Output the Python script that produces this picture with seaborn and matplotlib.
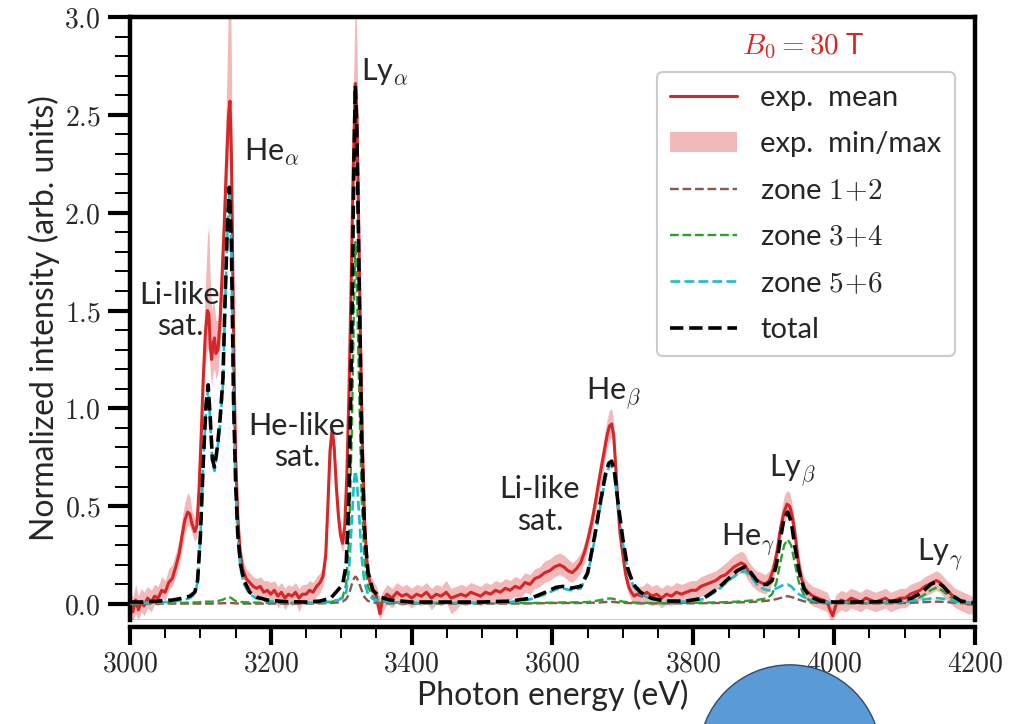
import numpy as np
import pandas as pd
import matplotlib
matplotlib.use("Agg")
import matplotlib.pyplot as plt
import seaborn as sns
from matplotlib.patches import Ellipse
from matplotlib.ticker import MultipleLocator, FuncFormatter

exp_x = [
    3000, 3004, 3008, 3012, 3016, 3020, 3025, 3030, 3035, 3040, 3045, 3050, 3055, 3060, 3065, 3070, 3074, 3078, 3082, 3085, 3088, 3092, 3095,
    3098, 3101, 3104, 3107, 3110, 3112, 3114, 3116, 3118, 3120, 3122, 3125, 3128, 3131, 3134, 3137, 3140, 3142, 3144, 3146, 3148, 3150, 3153, 3156, 3160,
    3165, 3170, 3175, 3180, 3185, 3190, 3195, 3200, 3205, 3210, 3215, 3220, 3225, 3230, 3235, 3240, 3245, 3250, 3255, 3260, 3265, 3270,
    3274, 3278, 3281, 3284, 3287, 3290, 3293, 3296, 3299, 3302, 3305, 3308, 3311, 3314, 3317, 3320, 3322, 3324, 3327, 3330, 3333, 3336, 3340, 3345, 3350, 3355, 3358,
    3365, 3372, 3379, 3386, 3393, 3400, 3407, 3414, 3421, 3428, 3435, 3442, 3449, 3456, 3463, 3470, 3477, 3484, 3491, 3498, 3505, 3512, 3519, 3526, 3533, 3540,
    3547, 3554, 3561, 3568, 3575, 3582, 3589, 3596, 3603, 3610, 3616, 3622, 3628, 3634, 3640, 3646, 3651, 3656, 3661, 3666, 3670, 3674, 3678, 3681, 3684, 3687, 3690, 3693, 3696, 3700, 3704, 3708, 3712, 3716, 3720,
    3727, 3734, 3741, 3748, 3755, 3762, 3769, 3776, 3783, 3790, 3797, 3804, 3811, 3818, 3825, 3832, 3839, 3846, 3852, 3858, 3863, 3868, 3873, 3878, 3884, 3890, 3896,
    3902, 3908, 3914, 3919, 3924, 3929, 3933, 3937, 3941, 3945, 3949, 3953, 3958, 3963, 3970, 3977, 3984, 3990,
    3994, 3998, 4003, 4010, 4017, 4024, 4031, 4038, 4045, 4052, 4059, 4066, 4073, 4080, 4087, 4094, 4101, 4108, 4115, 4122, 4129, 4135, 4140, 4145, 4150, 4155, 4160, 4166, 4172, 4178, 4184, 4190, 4196, 4200,
]
exp_mean = [
    0.00, -0.04, 0.02, -0.03, 0.01, -0.01, 0.03, 0.01, 0.04, 0.03, 0.07, 0.06, 0.11, 0.13, 0.19, 0.26, 0.35, 0.43, 0.47, 0.46, 0.41, 0.37, 0.40,
    0.58, 0.85, 1.15, 1.38, 1.50, 1.48, 1.32, 1.25, 1.33, 1.36, 1.28, 1.30, 1.45, 1.70, 1.95, 2.25, 2.50, 2.57, 2.30, 1.70, 1.15, 0.75, 0.45, 0.28, 0.18,
    0.13, 0.11, 0.09, 0.08, 0.09, 0.06, 0.07, 0.05, 0.07, 0.04, 0.06, 0.03, 0.05, 0.04, 0.06, 0.03, 0.05, 0.05, 0.07, 0.06, 0.09, 0.11,
    0.14, 0.25, 0.50, 0.78, 0.89, 0.80, 0.60, 0.45, 0.35, 0.31, 0.40, 0.66, 1.08, 1.62, 2.22, 2.66, 2.52, 2.12, 1.42, 0.82, 0.44, 0.23, 0.12, 0.07, 0.04, -0.05, 0.01,
    0.05, 0.03, 0.06, 0.04, 0.05, 0.03, 0.05, 0.04, 0.06, 0.03, 0.05, 0.04, 0.06, 0.03, 0.04, 0.05, 0.04, 0.06, 0.05, 0.04, 0.06, 0.05, 0.07, 0.06, 0.08, 0.07,
    0.09, 0.08, 0.11, 0.10, 0.13, 0.14, 0.16, 0.17, 0.19, 0.20, 0.19, 0.17, 0.16, 0.18, 0.21, 0.27, 0.34, 0.42, 0.52, 0.63, 0.71, 0.79, 0.87, 0.91, 0.92, 0.86, 0.69, 0.50, 0.36, 0.25, 0.15, 0.09, 0.06, 0.04, 0.05,
    0.04, 0.06, 0.04, 0.05, 0.03, 0.05, 0.04, 0.06, 0.05, 0.06, 0.07, 0.07, 0.09, 0.10, 0.11, 0.12, 0.14, 0.15, 0.17, 0.19, 0.20, 0.21, 0.20, 0.17, 0.14, 0.12, 0.11,
    0.10, 0.12, 0.18, 0.27, 0.39, 0.47, 0.51, 0.50, 0.44, 0.34, 0.22, 0.14, 0.08, 0.06, 0.04, 0.03, 0.02, 0.01,
    -0.03, -0.06, 0.00, 0.02, 0.01, 0.03, 0.02, 0.01, 0.03, 0.02, 0.01, 0.02, 0.03, 0.01, 0.02, 0.03, 0.03, 0.05, 0.06, 0.07, 0.09, 0.10, 0.11, 0.12, 0.11, 0.09, 0.07, 0.05, 0.03, 0.02, 0.01, 0.00, 0.00, 0.00,
]
exp_min = [
    -0.08, -0.08, -0.05, -0.08, -0.04, -0.06, -0.02, -0.04, 0.00, -0.01, 0.03, 0.02, 0.07, 0.09, 0.14, 0.20, 0.28, 0.36, 0.40, 0.40, 0.36, 0.32, 0.34,
    0.50, 0.75, 1.02, 1.22, 1.30, 1.30, 1.18, 1.12, 1.18, 1.20, 1.15, 1.18, 1.32, 1.55, 1.80, 2.08, 2.30, 2.38, 2.12, 1.55, 1.02, 0.66, 0.38, 0.23, 0.14,
    0.09, 0.07, 0.05, 0.04, 0.04, 0.01, 0.02, 0.00, 0.02, -0.02, 0.01, -0.03, 0.00, -0.01, 0.01, -0.04, 0.00, 0.00, 0.02, 0.01, 0.04, 0.06,
    0.09, 0.19, 0.42, 0.68, 0.80, 0.72, 0.52, 0.39, 0.30, 0.26, 0.34, 0.58, 0.96, 1.45, 2.00, 2.40, 2.28, 1.90, 1.28, 0.72, 0.38, 0.18, 0.08, 0.02, -0.02, -0.08, -0.05,
    0.00, -0.02, 0.01, -0.01, 0.00, -0.02, 0.00, -0.01, 0.01, -0.03, 0.00, -0.01, 0.01, -0.05, -0.03, 0.00, -0.01, 0.01, 0.00, -0.01, 0.01, 0.00, 0.02, 0.01, 0.03, 0.02,
    0.04, 0.03, 0.06, 0.05, 0.08, 0.09, 0.11, 0.12, 0.14, 0.15, 0.14, 0.12, 0.11, 0.13, 0.16, 0.22, 0.29, 0.37, 0.46, 0.56, 0.64, 0.72, 0.80, 0.84, 0.85, 0.78, 0.62, 0.44, 0.31, 0.20, 0.11, 0.05, 0.02, 0.00, 0.01,
    0.00, 0.01, -0.01, 0.00, -0.02, 0.00, -0.01, 0.01, 0.00, 0.01, 0.02, 0.02, 0.04, 0.05, 0.06, 0.07, 0.09, 0.10, 0.12, 0.14, 0.15, 0.16, 0.15, 0.12, 0.09, 0.07, 0.06,
    0.05, 0.07, 0.13, 0.22, 0.33, 0.41, 0.45, 0.44, 0.38, 0.29, 0.17, 0.09, 0.03, 0.01, -0.01, -0.02, -0.03, -0.04,
    -0.08, -0.08, -0.05, -0.03, -0.04, -0.02, -0.03, -0.04, -0.02, -0.03, -0.04, -0.03, -0.02, -0.04, -0.03, -0.02, -0.02, 0.00, 0.01, 0.02, 0.04, 0.05, 0.06, 0.07, 0.06, 0.04, 0.02, 0.00, -0.02, -0.03, -0.04, -0.05, -0.05, -0.05,
]
exp_max = [
    0.08, 0.03, 0.10, 0.04, 0.08, 0.06, 0.09, 0.07, 0.10, 0.09, 0.14, 0.12, 0.18, 0.20, 0.26, 0.33, 0.44, 0.52, 0.57, 0.55, 0.48, 0.44, 0.48,
    0.68, 0.98, 1.32, 1.62, 1.88, 1.93, 1.65, 1.50, 1.55, 1.52, 1.45, 1.45, 1.62, 1.90, 2.20, 2.60, 3.10, 3.30, 2.80, 2.00, 1.35, 0.88, 0.54, 0.34, 0.23,
    0.18, 0.16, 0.14, 0.13, 0.14, 0.12, 0.12, 0.11, 0.12, 0.09, 0.11, 0.08, 0.10, 0.09, 0.11, 0.08, 0.10, 0.10, 0.12, 0.11, 0.14, 0.16,
    0.19, 0.32, 0.58, 0.86, 0.93, 0.87, 0.68, 0.52, 0.41, 0.37, 0.47, 0.76, 1.22, 1.85, 2.60, 3.10, 2.95, 2.45, 1.65, 0.95, 0.52, 0.29, 0.17, 0.12, 0.09, 0.03, 0.06,
    0.10, 0.08, 0.11, 0.09, 0.10, 0.08, 0.10, 0.09, 0.11, 0.08, 0.10, 0.09, 0.12, 0.08, 0.09, 0.10, 0.09, 0.11, 0.10, 0.09, 0.11, 0.10, 0.12, 0.11, 0.13, 0.12,
    0.14, 0.13, 0.16, 0.15, 0.18, 0.19, 0.22, 0.23, 0.25, 0.26, 0.25, 0.23, 0.21, 0.23, 0.26, 0.32, 0.40, 0.48, 0.58, 0.70, 0.78, 0.87, 0.95, 0.99, 1.00, 0.93, 0.75, 0.56, 0.41, 0.30, 0.20, 0.13, 0.10, 0.08, 0.09,
    0.09, 0.11, 0.09, 0.10, 0.08, 0.10, 0.09, 0.11, 0.10, 0.11, 0.12, 0.12, 0.14, 0.15, 0.16, 0.17, 0.19, 0.21, 0.23, 0.25, 0.26, 0.27, 0.26, 0.22, 0.19, 0.17, 0.16,
    0.15, 0.17, 0.23, 0.33, 0.46, 0.55, 0.58, 0.57, 0.50, 0.40, 0.28, 0.19, 0.13, 0.11, 0.09, 0.08, 0.07, 0.06,
    0.03, 0.00, 0.05, 0.07, 0.06, 0.08, 0.07, 0.06, 0.08, 0.07, 0.06, 0.07, 0.08, 0.06, 0.07, 0.08, 0.08, 0.10, 0.11, 0.12, 0.14, 0.15, 0.16, 0.17, 0.16, 0.14, 0.12, 0.10, 0.08, 0.07, 0.06, 0.05, 0.04, 0.04,
]

# ---------------- model ----------------
model_x = [
    3000, 3020, 3040, 3060, 3075, 3085, 3092, 3096, 3100, 3104,
    3108, 3111, 3114, 3117, 3120, 3124, 3128, 3132, 3135, 3138,
    3141, 3144, 3147, 3150, 3153, 3157, 3162, 3170, 3180, 3195,
    3220, 3250, 3270, 3285, 3295, 3302, 3307, 3311, 3315, 3318,
    3320, 3322, 3325, 3329, 3333, 3338, 3345, 3355, 3370, 3400,
    3450, 3500, 3540, 3570, 3590, 3605, 3615, 3625, 3640, 3650,
    3660, 3668, 3675, 3680, 3684, 3688, 3693, 3700, 3707, 3715,
    3725, 3740, 3760, 3790, 3815, 3835, 3850, 3862, 3873, 3882,
    3890, 3898, 3905, 3912, 3918, 3924, 3929, 3934, 3939, 3944,
    3950, 3957, 3965, 3980, 4000, 4050, 4090, 4110, 4125, 4137,
    4146, 4155, 4165, 4180, 4200,
]
total = [
    0.01, 0.01, 0.015, 0.02, 0.03, 0.04, 0.06, 0.12, 0.35, 0.72,
    1.02, 1.12, 0.95, 0.74, 0.70, 0.80, 0.95, 1.15, 1.55, 1.90,
    2.13, 1.85, 1.05, 0.62, 0.36, 0.20, 0.12, 0.06, 0.035, 0.02,
    0.012, 0.01, 0.015, 0.03, 0.07, 0.10, 0.20, 0.55, 1.40, 2.25,
    2.65, 2.45, 1.75, 0.85, 0.38, 0.16, 0.07, 0.035, 0.02, 0.01,
    0.01, 0.01, 0.015, 0.03, 0.06, 0.085, 0.09, 0.08, 0.09, 0.16,
    0.35, 0.52, 0.66, 0.72, 0.73, 0.68, 0.52, 0.33, 0.18, 0.10,
    0.06, 0.03, 0.015, 0.015, 0.03, 0.08, 0.13, 0.17, 0.19, 0.16,
    0.12, 0.10, 0.10, 0.12, 0.20, 0.34, 0.44, 0.47, 0.42, 0.30,
    0.17, 0.08, 0.04, 0.015, 0.01, 0.01, 0.015, 0.03, 0.06, 0.10,
    0.115, 0.09, 0.05, 0.015, 0.005,
]
zone12 = [
    0.002, 0.002, 0.002, 0.002, 0.002, 0.002, 0.002, 0.002, 0.002, 0.002,
    0.002, 0.002, 0.002, 0.002, 0.002, 0.003, 0.003, 0.004, 0.004, 0.005,
    0.005, 0.005, 0.004, 0.003, 0.003, 0.003, 0.002, 0.002, 0.002, 0.002,
    0.002, 0.002, 0.003, 0.005, 0.008, 0.012, 0.025, 0.05, 0.10, 0.13,
    0.14, 0.135, 0.11, 0.07, 0.035, 0.015, 0.008, 0.004, 0.003, 0.002,
    0.002, 0.002, 0.002, 0.003, 0.004, 0.005, 0.005, 0.005, 0.005, 0.006,
    0.007, 0.008, 0.01, 0.011, 0.011, 0.01, 0.008, 0.006, 0.005, 0.004,
    0.003, 0.003, 0.003, 0.003, 0.004, 0.005, 0.006, 0.008, 0.009, 0.01,
    0.012, 0.014, 0.017, 0.02, 0.025, 0.031, 0.036, 0.04, 0.036, 0.03,
    0.022, 0.014, 0.009, 0.005, 0.003, 0.003, 0.004, 0.006, 0.009, 0.011,
    0.012, 0.011, 0.008, 0.004, 0.002,
]
zone34 = [
    0.005, 0.005, 0.005, 0.006, 0.006, 0.007, 0.008, 0.008, 0.01, 0.01,
    0.012, 0.012, 0.012, 0.012, 0.013, 0.015, 0.018, 0.022, 0.028, 0.033,
    0.035, 0.03, 0.022, 0.015, 0.012, 0.01, 0.009, 0.008, 0.007, 0.006,
    0.005, 0.005, 0.006, 0.01, 0.02, 0.035, 0.10, 0.33, 0.88, 1.50,
    1.85, 1.68, 1.17, 0.54, 0.23, 0.09, 0.035, 0.015, 0.008, 0.005,
    0.005, 0.005, 0.005, 0.005, 0.006, 0.007, 0.008, 0.008, 0.009, 0.01,
    0.015, 0.02, 0.025, 0.028, 0.028, 0.025, 0.018, 0.012, 0.009, 0.007,
    0.006, 0.005, 0.005, 0.006, 0.007, 0.008, 0.01, 0.012, 0.015, 0.018,
    0.02, 0.025, 0.03, 0.05, 0.11, 0.22, 0.30, 0.33, 0.30, 0.21,
    0.11, 0.045, 0.018, 0.007, 0.005, 0.005, 0.007, 0.015, 0.04, 0.07,
    0.085, 0.065, 0.035, 0.012, 0.005,
]
zone56 = [
    0.005, 0.005, 0.008, 0.012, 0.02, 0.03, 0.05, 0.11, 0.34, 0.71,
    1.00, 1.10, 0.93, 0.72, 0.68, 0.78, 0.92, 1.12, 1.52, 1.86,
    2.09, 1.82, 1.02, 0.60, 0.34, 0.18, 0.10, 0.05, 0.028, 0.015,
    0.008, 0.006, 0.008, 0.012, 0.02, 0.03, 0.06, 0.17, 0.42, 0.62,
    0.68, 0.64, 0.48, 0.24, 0.11, 0.05, 0.025, 0.015, 0.01, 0.006,
    0.006, 0.006, 0.01, 0.025, 0.05, 0.075, 0.08, 0.07, 0.08, 0.15,
    0.33, 0.50, 0.64, 0.70, 0.71, 0.66, 0.50, 0.31, 0.17, 0.09,
    0.05, 0.025, 0.012, 0.012, 0.025, 0.07, 0.12, 0.15, 0.17, 0.14,
    0.10, 0.08, 0.07, 0.07, 0.08, 0.09, 0.10, 0.10, 0.09, 0.07,
    0.05, 0.035, 0.025, 0.012, 0.008, 0.008, 0.01, 0.015, 0.022, 0.028,
    0.03, 0.027, 0.018, 0.008, 0.004,
]

# annotations
annot_text = ["Li-like\nsat.", r"He$_{\alpha}$", r"Ly$_{\alpha}$", "He-like\nsat.", r"He$_{\beta}$",
              "Li-like\nsat.", r"He$_{\gamma}$", r"Ly$_{\beta}$", r"Ly$_{\gamma}$"]
annot_x = [3071, 3162, 3328, 3237, 3648, 3582, 3840, 3908, 4118]
annot_y = [1.50, 2.31, 2.72, 0.83, 1.08, 0.505, 0.33, 0.685, 0.25]
annot_ha = ["center", "left", "left", "center", "left", "center", "left", "left", "left"]

legend_labels = ["exp.  mean", "exp.  min/max", "zone $1\\!+\\!2$", "zone $3\\!+\\!4$", "zone $5\\!+\\!6$", "total"]

assert len(exp_x) == len(exp_mean) == len(exp_min) == len(exp_max)
assert len(model_x) == len(total) == len(zone12) == len(zone34) == len(zone56)

# ---------------- styling ----------------
sns.set_style("ticks")
plt.rcParams["font.family"] = ["Lato", "DejaVu Sans"]
plt.rcParams["mathtext.fontset"] = "cm"

RED = "#d62728"
BROWN = "#8c564b"
GREEN = "#2ca02c"
CYAN = "#17becf"

fig = plt.figure(figsize=(10.14, 7.24), dpi=100)
ax = fig.add_axes([0.1282, 0.1436, 0.8333, 0.8329])

fill = ax.fill_between(exp_x, exp_min, exp_max, color=RED, alpha=0.32, lw=0, zorder=1)
sns.lineplot(x=exp_x, y=exp_mean, ax=ax, color=RED, lw=2.2, estimator=None, sort=False, zorder=2)
sns.lineplot(x=model_x, y=zone12, ax=ax, color=BROWN, lw=1.7, linestyle="--", estimator=None, sort=False, zorder=3)
sns.lineplot(x=model_x, y=zone34, ax=ax, color=GREEN, lw=1.7, linestyle="--", estimator=None, sort=False, zorder=3)
sns.lineplot(x=model_x, y=zone56, ax=ax, color=CYAN, lw=1.9, linestyle="--", estimator=None, sort=False, zorder=3)
sns.lineplot(x=model_x, y=total, ax=ax, color="black", lw=2.6, linestyle="--", estimator=None, sort=False, zorder=4)

lines = ax.get_lines()
handles = [lines[0], fill, lines[1], lines[2], lines[3], lines[4]]

ax.set_xlim(3000, 4200)
ax.set_ylim(-0.082, 3.0)
ax.axhline(ax.get_ylim()[0], color="black", lw=1.0, zorder=5)

ax.xaxis.set_major_locator(MultipleLocator(200))
ax.xaxis.set_minor_locator(MultipleLocator(50))
ax.yaxis.set_major_locator(MultipleLocator(0.5))
ax.yaxis.set_minor_locator(MultipleLocator(0.1))
ax.xaxis.set_major_formatter(FuncFormatter(lambda v, p: f"${v:.0f}$"))
ax.yaxis.set_major_formatter(FuncFormatter(lambda v, p: f"${v:.1f}$"))

for s in ax.spines.values():
    s.set_linewidth(3.2)
    s.set_color("black")
ax.spines["bottom"].set_position(("outward", 5))

ax.tick_params(axis="y", which="major", direction="out", length=16, width=3, labelsize=20, pad=5, color="black")
ax.tick_params(axis="y", which="minor", direction="out", length=11, width=1.4, color="black")
ax.tick_params(axis="x", which="major", direction="out", length=13, width=3, labelsize=20, pad=4, color="black")
ax.tick_params(axis="x", which="minor", direction="out", length=8, width=1.4, color="black")

ax.set_xlabel("Photon energy (eV)", fontsize=23, labelpad=2)
ax.set_ylabel("Normalized intensity (arb. units)", fontsize=23, labelpad=3)

for t, xx, yy, ha in zip(annot_text, annot_x, annot_y, annot_ha):
    ax.text(xx, yy, t, fontsize=22, ha=ha, va="center", linespacing=1.15, zorder=6)

ax.text(3956, 2.85, r"$B_0 = 30$ T", color=RED, fontsize=21, ha="center", va="center")

leg = ax.legend(handles, legend_labels, loc="upper right", bbox_to_anchor=(0.976, 0.909),
                borderaxespad=0, fontsize=21, frameon=True, fancybox=True, framealpha=1,
                edgecolor="#cccccc", handlelength=2.3, handletextpad=0.8, labelspacing=0.7,
                borderpad=0.45)
leg.get_frame().set_linewidth(1.5)

fig.add_artist(Ellipse((0.779, -0.044), 0.1795, 0.2514, transform=fig.transFigure,
                       facecolor="#5b9bd5", edgecolor="#2e4a70", lw=1.0, clip_on=False))

fig.savefig("out.png", dpi=100)
